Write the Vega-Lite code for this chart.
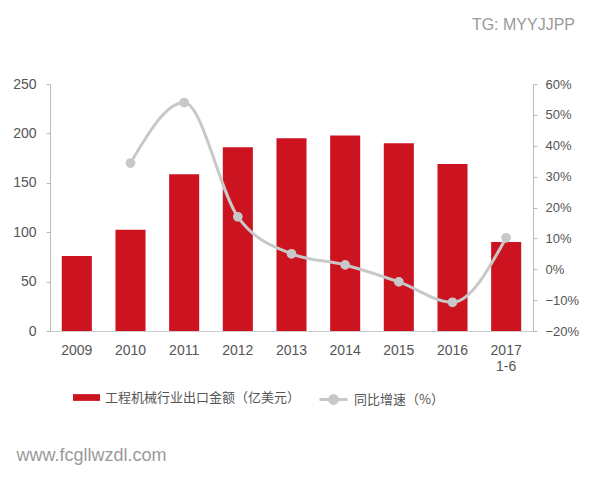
{
  "$schema": "https://vega.github.io/schema/vega-lite/v6.json",
  "width": 483,
  "height": 247,
  "autosize": {"type": "none"},
  "padding": {"left": 50, "top": 84, "right": 67, "bottom": 149},
  "background": "white",
  "config": {
    "view": {"stroke": null},
    "font": "Liberation Sans",
    "axis": {"labelFont": "Liberation Sans", "labelColor": "#555555", "labelFontSize": 14, "grid": false, "domainColor": "#bbbbbb", "tickColor": "#bbbbbb"}
  },
  "title": {"text": "TG: MYYJJPP", "anchor": "end", "frame": "group", "orient": "top", "offset": 44, "dx": 42, "color": "#9a9a9a", "fontSize": 16, "fontWeight": "normal", "font": "Liberation Sans"},
  "data": {
    "values": [
      {"year": "2009", "export": 76, "growth": null},
      {"year": "2010", "export": 102.5, "growth": 0.344},
      {"year": "2011", "export": 158.6, "growth": 0.54},
      {"year": "2012", "export": 186, "growth": 0.17},
      {"year": "2013", "export": 195, "growth": 0.05},
      {"year": "2014", "export": 198, "growth": 0.014},
      {"year": "2015", "export": 190, "growth": -0.041},
      {"year": "2016", "export": 169, "growth": -0.107},
      {"year": "2017", "export": 90, "growth": 0.102}
    ]
  },
  "layer": [
    {
      "mark": {"type": "bar"},
      "encoding": {
        "x": {
          "field": "year", "type": "ordinal",
          "scale": {"paddingInner": 0.44, "paddingOuter": 0.22},
          "axis": {
            "labelAngle": 0, "ticks": false, "labelPadding": 12, "domainColor": "#cccccc",
            "labelExpr": "datum.value == '2017' ? ['2017', '1-6'] : datum.label",
            "title": "www.fcgllwzdl.com", "titleX": -34, "titleY": 124, "titleAlign": "left", "titleAnchor": "start", "titleBaseline": "middle",
            "titleFontSize": 18, "titleFontWeight": "normal", "titleColor": "#9a9a9a", "titleFont": "Liberation Sans"
          }
        },
        "y": {
          "field": "export", "type": "quantitative",
          "scale": {"domain": [0, 250]},
          "axis": {"orient": "left", "title": null, "values": [0, 50, 100, 150, 200, 250], "tickSize": 4, "labelPadding": 10}
        },
        "color": {
          "datum": "工程机械行业出口金额（亿美元）",
          "scale": {"range": ["#cc1420"]},
          "legend": {
            "orient": "none", "legendX": 23, "legendY": 300, "title": null,
            "symbolType": "M-1,-0.25H1V0.25H-1Z", "symbolSize": 729, "symbolStrokeWidth": 0,
            "labelFont": "Noto Sans CJK SC", "labelFontSize": 13, "labelColor": "#555555", "labelOffset": 5, "labelLimit": 400
          }
        }
      }
    },
    {
      "mark": {"type": "line", "interpolate": "monotone", "strokeWidth": 3, "point": {"filled": true, "fill": "#c8c8c8", "size": 60}},
      "encoding": {
        "x": {"field": "year", "type": "ordinal"},
        "y": {
          "field": "growth", "type": "quantitative",
          "scale": {"domain": [-0.2, 0.6]},
          "axis": {"orient": "right", "title": null, "format": ".0%", "values": [-0.2, -0.1, 0, 0.1, 0.2, 0.3, 0.4, 0.5, 0.6], "tickSize": 4, "labelPadding": 8, "labelFontSize": 13}
        },
        "stroke": {
          "datum": "同比增速（%）",
          "scale": {"range": ["#c8c8c8"]},
          "legend": {
            "orient": "none", "legendX": 268, "legendY": 300, "title": null,
            "symbolType": "M-1,0H1M0.28,0A0.28,0.28,0,1,1,-0.28,0A0.28,0.28,0,1,1,0.28,0Z", "symbolSize": 784,
            "symbolStrokeWidth": 3, "symbolFillColor": "#c8c8c8", "symbolStrokeColor": "#c8c8c8",
            "labelFont": "Noto Sans CJK SC", "labelFontSize": 13, "labelColor": "#555555", "labelOffset": 5, "labelLimit": 400
          }
        }
      }
    }
  ],
  "resolve": {"scale": {"y": "independent"}}
}
